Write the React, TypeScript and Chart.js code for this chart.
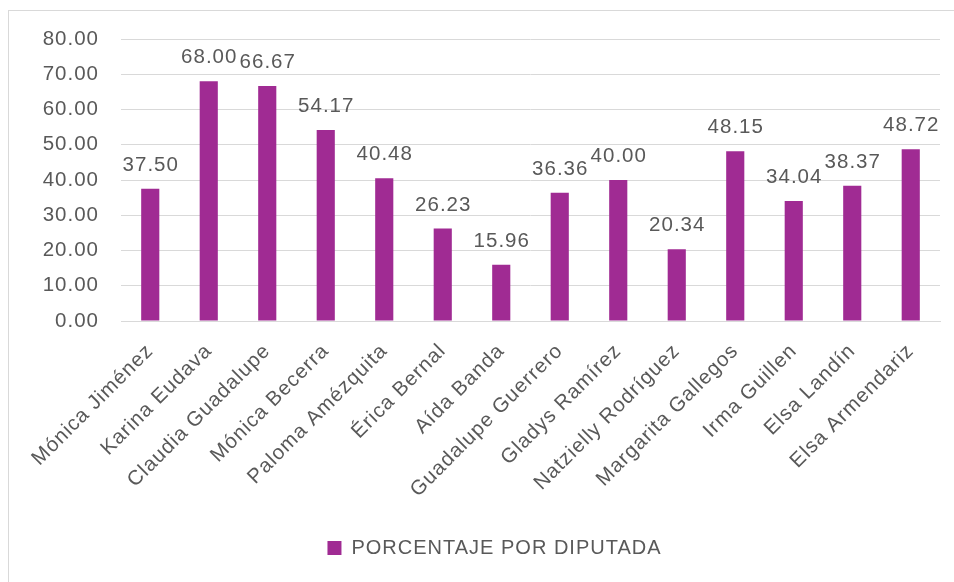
import { useEffect, useRef } from 'react';
import { Chart, registerables } from 'chart.js';

Chart.register(...registerables);

const categories = [
  'Mónica Jiménez',
  'Karina Eudava',
  'Claudia Guadalupe',
  'Mónica Becerra',
  'Paloma Amézquita',
  'Érica Bernal',
  'Aída Banda',
  'Guadalupe Guerrero',
  'Gladys Ramírez',
  'Natzielly Rodríguez',
  'Margarita Gallegos',
  'Irma Guillen',
  'Elsa Landín',
  'Elsa Armendariz',
];

const values = [37.5, 68.0, 66.67, 54.17, 40.48, 26.23, 15.96, 36.36, 40.0, 20.34, 48.15, 34.04, 38.37, 48.72];

const seriesLabel = 'PORCENTAJE POR DIPUTADA';

const yMin = 0;
const yMax = 80;
const yStep = 10;

const BAR_COLOR = '#A02B93';
const TEXT_COLOR = '#595959';
const GRID_COLOR = '#D9D9D9';
const FONT_FAMILY = '"Liberation Sans", Arial, sans-serif';
const TICK_SIZE = 20.5;

const spacingPlugin = {
  id: 'letterSpacing',
  beforeUpdate(chart: any) {
    chart.ctx.letterSpacing = '1px';
  },
  beforeLayout(chart: any) {
    chart.ctx.letterSpacing = '1px';
  },
  beforeDraw(chart: any) {
    chart.ctx.letterSpacing = '1px';
    const lg = chart.legend;
    if (lg) {
      lg.left += 20;
      lg.right += 20;
    }
  },
};

const dataLabelPlugin = {
  id: 'dataLabels',
  afterDatasetsDraw(chart: any) {
    const ctx = chart.ctx;
    const meta = chart.getDatasetMeta(0);
    ctx.save();
    ctx.letterSpacing = '1px';
    ctx.font = `${TICK_SIZE}px ${FONT_FAMILY}`;
    ctx.fillStyle = TEXT_COLOR;
    ctx.textAlign = 'center';
    ctx.textBaseline = 'alphabetic';
    meta.data.forEach((el: any, i: number) => {
      ctx.fillText(values[i].toFixed(2), el.x + 0.5, el.y - 18);
    });
    ctx.restore();
  },
};

export default function App() {
  const ref = useRef<HTMLCanvasElement | null>(null);

  useEffect(() => {
    if (!ref.current) return;
    const chart = new Chart(ref.current, {
      type: 'bar',
      data: {
        labels: categories,
        datasets: [
          {
            label: seriesLabel,
            data: values,
            backgroundColor: BAR_COLOR,
            borderWidth: 0,
            barPercentage: 0.31,
            categoryPercentage: 1,
          },
        ],
      },
      options: {
        animation: false,
        responsive: true,
        maintainAspectRatio: false,
        layout: { padding: { top: 28, right: 14, left: 0, bottom: 14 } },
        plugins: {
          legend: {
            position: 'bottom',
            labels: {
              boxWidth: 14,
              boxHeight: 14,
              padding: 10,
              color: TEXT_COLOR,
              font: { family: FONT_FAMILY, size: 20 },
            },
          },
          tooltip: { enabled: false },
        },
        scales: {
          x: {
            grid: { display: false, drawTicks: false },
            border: { display: true, color: GRID_COLOR, width: 1 },
            ticks: {
              color: TEXT_COLOR,
              font: { family: FONT_FAMILY, size: TICK_SIZE },
              minRotation: 45,
              maxRotation: 45,
              padding: 18,
              autoSkip: false,
            },
            afterFit(scale: any) {
              scale.height = 207;
            },
          },
          y: {
            min: yMin,
            max: yMax,
            grid: {
              color: GRID_COLOR,
              lineWidth: 1,
              drawTicks: true,
              tickLength: 22,
              tickColor: 'rgba(0,0,0,0)',
            },
            border: { display: false },
            ticks: {
              stepSize: yStep,
              color: TEXT_COLOR,
              font: { family: FONT_FAMILY, size: TICK_SIZE },
              padding: 0,
              callback: (v: any) => Number(v).toFixed(2),
            },
            afterFit(scale: any) {
              scale.width = 112;
            },
          },
        },
      },
      plugins: [spacingPlugin, dataLabelPlugin],
    });
    return () => chart.destroy();
  }, []);

  return (
    <div
      style={{
        position: 'fixed',
        left: 8,
        top: 10,
        width: 946,
        height: 572,
        borderLeft: '1px solid #D9D9D9',
        borderTop: '1px solid #D9D9D9',
        boxSizing: 'border-box',
        background: '#fff',
      }}
    >
      <canvas ref={ref} />
    </div>
  );
}
